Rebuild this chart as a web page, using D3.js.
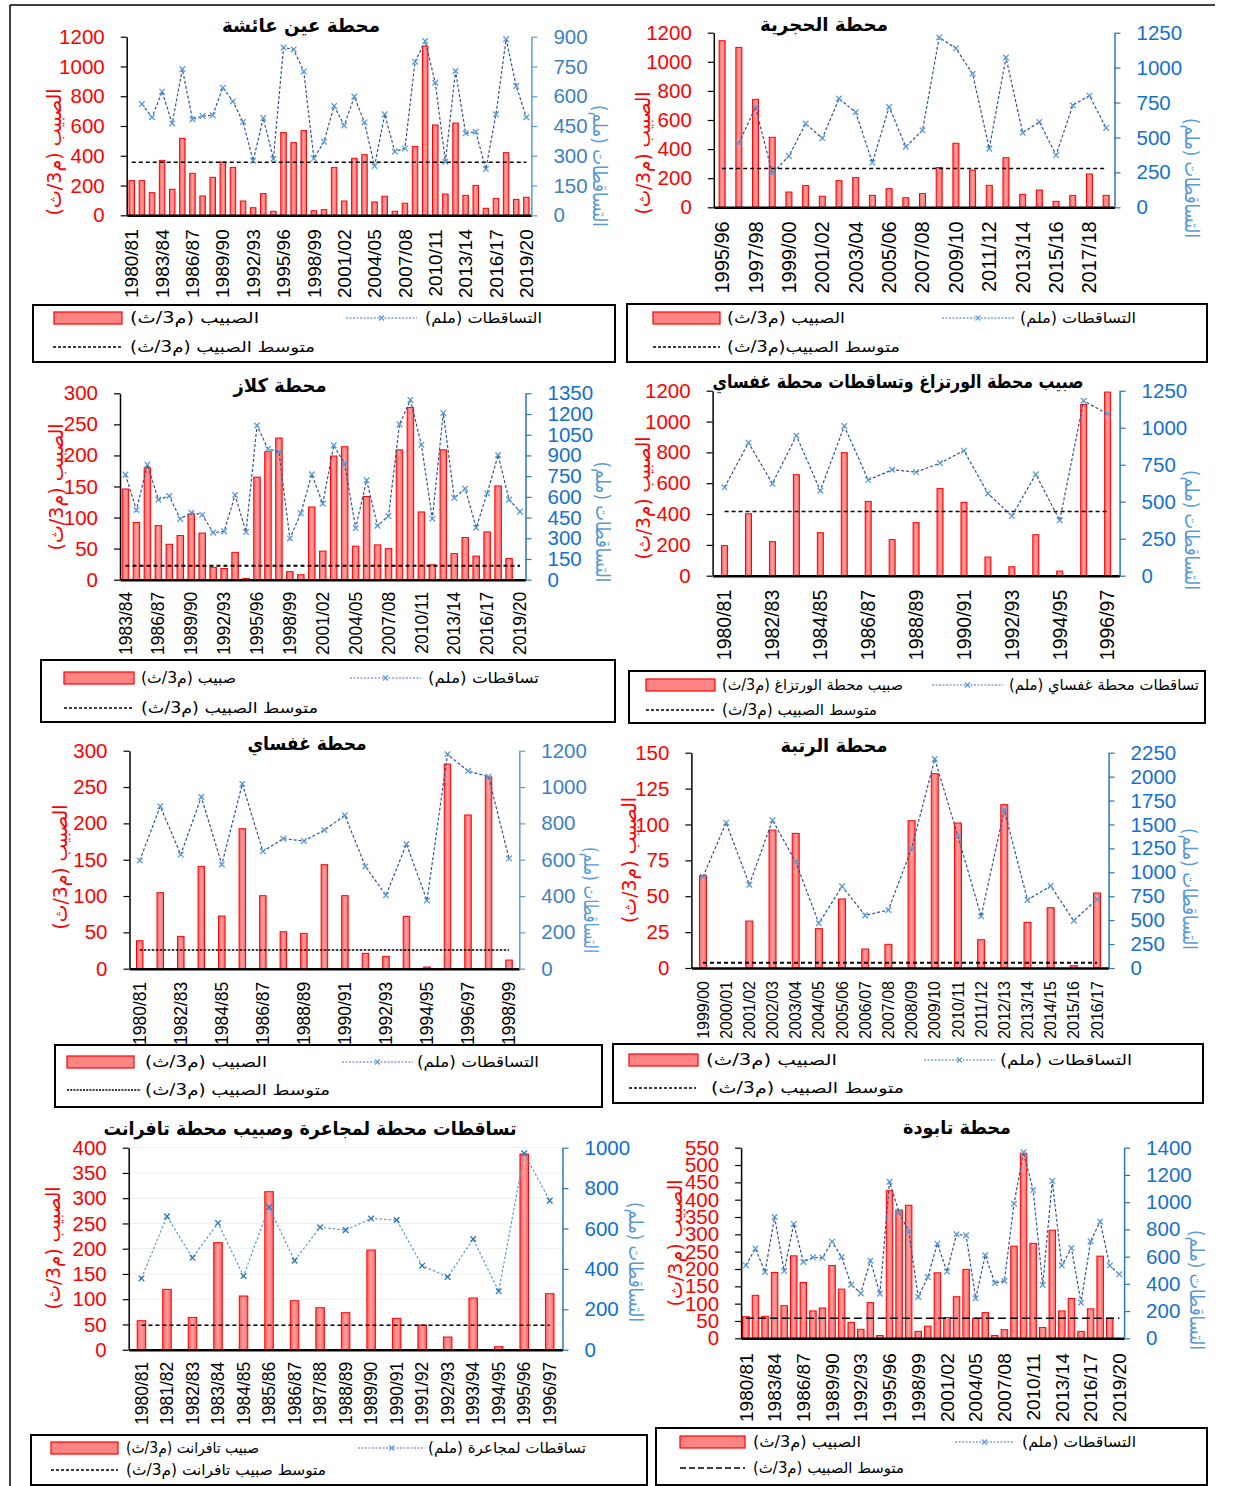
<!DOCTYPE html>
<html>
<head>
<meta charset="utf-8">
<script src="https://cdn.jsdelivr.net/npm/d3@7"></script>
<style>
  body { margin: 0; background: #fff; }
  svg { display: block; }
</style>
</head>
<body>
<svg id="chart" width="1233" height="1486"></svg>
<script>
// ---------- categories (hydrological years) ----------
const seasonsAll = ["1980/81","1981/82","1982/83","1983/84","1984/85","1985/86","1986/87","1987/88","1988/89","1989/90",
  "1990/91","1991/92","1992/93","1993/94","1994/95","1995/96","1996/97","1997/98","1998/99","1999/00",
  "2000/01","2001/02","2002/03","2003/04","2004/05","2005/06","2006/07","2007/08","2008/09","2009/10",
  "2010/11","2011/12","2012/13","2013/14","2014/15","2015/16","2016/17","2017/18","2018/19","2019/20"];
const seasonsHajria = seasonsAll.slice(15, 39);   // 1995/96 - 2018/19
const seasonsKlaz   = seasonsAll.slice(3);        // 1983/84 - 2019/20
const seasons8097   = seasonsAll.slice(0, 17);    // 1980/81 - 1996/97
const seasons8099   = seasonsAll.slice(0, 19);    // 1980/81 - 1998/99
const seasonsRatba  = seasonsAll.slice(19, 37);   // 1999/00 - 2016/17

// ---------- series: flow (m3/s), rainfall (mm), mean flow ----------
const aynAichaFlow = [233,233,152,369,175,517,282,130,255,358,322,96,51,146,27,557,488,569,31,38,
  322,96,383,407,90,128,27,81,463,1137,607,143,620,134,201,47,114,421,107,121];
const aynAichaRain = [null,561,494,623,463,737,484,500,504,643,574,470,275,490,285,845,836,725,287,371,
  551,452,598,468,248,509,321,337,774,878,668,270,727,413,421,233,509,888,651,494];
const aynAichaMean = 356;

const hajriaFlow = [1145,1099,742,481,105,149,76,183,204,82,128,66,94,273,440,256,151,341,89,119,41,82,229,82];
const hajriaRain = [null,458,718,243,367,599,494,778,680,320,718,434,551,1216,1138,956,420,1073,534,611,374,730,799,568];
const hajriaMean = 266;

const klazFlow = [146,92,180,87,57,71,105,75,20,18,44,2,165,206,228,13,8,117,46,199,
  214,54,134,56,50,209,277,109,24,209,42,68,38,77,151,34,null];
const klazRain = [761,505,833,580,606,440,485,471,341,350,613,345,1116,947,927,299,481,763,551,973,
  840,374,720,391,461,1125,1302,978,442,1208,592,659,377,625,903,580,493];
const klazMean = 22.5;

const wertzaghFlow = [195,402,221,655,279,798,482,234,344,566,476,121,58,266,30,1111,1191];
const ghafsaiRain8097 = [597,899,622,946,574,1011,646,716,700,761,845,556,403,685,374,1182,1092];
const wertzaghMean = 417;

const ghafsaiFlow = [38.5,104.6,44.5,140.8,72.5,192.7,100.5,50.9,48.6,143.1,100.5,21.1,17,72,2.3,281.6,211.5,263.8,11.9];
const ghafsaiRain = [596,894,628,945,574,1017,646,716,703,763,844,563,404,686,376,1180,1088,1057,606];
const ghafsaiMean = 25.7;

const ratbaFlow = [64.3,0,32.7,96.1,93.8,27.4,48.1,13.2,16.5,102.6,135.4,101,19.7,113.8,31.8,42,1.6,52.2];
const ratbaRain = [954,1519,871,1546,1108,467,853,550,606,1250,2184,1379,540,1651,711,857,495,718];
const ratbaMean = 3.7;

const tafrantFlow = [57.4,119.5,64,211.9,106.3,312.9,97,83.2,73.3,197.4,62,48.8,25.1,102.3,5.9,387.5,110.9];
const lamjaaraRain = [353,660,455,627,365,706,441,606,592,649,642,416,360,548,289,972,738];
const tafrantMean = 48.2;

const taboudaFlow = [62.5,124,63.5,190,94,238,161,79,87.5,210,142,46,26,103,8,426,370,384,20,35,
  189,60,120,199,58,74,8,25,266,534,274,31,312,79,115,20,85,237,58,null];
const taboudaRain = [536,659,487,891,494,840,561,595,592,710,597,394,330,570,328,1150,925,786,304,450,
  695,490,764,756,294,610,406,421,989,1366,1089,392,1155,536,663,262,712,857,534,470];
const taboudaMean = 57.7;

// ---------- tick labels ----------
const ticks0to1200by200 = [0,200,400,600,800,1000,1200];
const ticks0to900by150  = [0,150,300,450,600,750,900];
const ticks0to1250by250 = [0,250,500,750,1000,1250];
const ticks0to300by50   = [0,50,100,150,200,250,300];
const ticks0to1350by150 = [0,150,300,450,600,750,900,1050,1200,1350];
const ticks0to150by25   = [0,25,50,75,100,125,150];
const ticks0to2250by250 = [0,250,500,750,1000,1250,1500,1750,2000,2250];
const ticks0to400by50   = [0,50,100,150,200,250,300,350,400];
const ticks0to1000by200 = [0,200,400,600,800,1000];
const ticks0to550by50   = [0,50,100,150,200,250,300,350,400,450,500,550];
const ticks0to1400by200 = [0,200,400,600,800,1000,1200,1400];

// ---------- drawing ----------
const NUM = "'Liberation Sans', Arial, sans-serif";
const AR = "'DejaVu Sans', sans-serif";
const svg = d3.select("#chart");

const defs = svg.append("defs");
const grad = defs.append("linearGradient").attr("id", "barFill").attr("x1", 0).attr("x2", 1).attr("y1", 0).attr("y2", 0);
grad.append("stop").attr("offset", 0).attr("stop-color", "#ff5c5c");
grad.append("stop").attr("offset", 0.5).attr("stop-color", "#ffa3a3");
grad.append("stop").attr("offset", 1).attr("stop-color", "#ff5c5c");

function arabic(parent, txt, cx, cy, len, size, color, weight, rot) {
  const t = parent.append("text")
    .attr("transform", `translate(${cx},${cy}) rotate(${rot || 0})`)
    .attr("text-anchor", "middle")
    .attr("dominant-baseline", "central")
    .attr("direction", "rtl")
    .attr("fill", color)
    .style("font-family", AR)
    .style("font-size", size + "px")
    .style("font-weight", weight || "normal")
    .text(txt);
  if (len) t.attr("textLength", len).attr("lengthAdjust", "spacingAndGlyphs");
  return t;
}

function drawPanel(p) {
  const g = svg.append("g");
  const x = d3.scaleBand().domain(p.cats).range([p.x0, p.x1]);
  const bw = x.bandwidth();
  const cx = c => x(c) + bw / 2;
  const yL = d3.scaleLinear().domain([0, d3.max(p.lTicks)]).range([p.yB, p.yT]);
  const yR = d3.scaleLinear().domain([0, d3.max(p.rTicks)]).range([p.yB, p.yT]);

  if (p.grid) {
    g.append("g").selectAll("line").data(p.lTicks.filter(v => v > 0)).join("line")
      .attr("x1", p.x0).attr("x2", p.x1)
      .attr("y1", d => yL(d)).attr("y2", d => yL(d))
      .attr("stroke", "#eeeeee").attr("stroke-width", 1);
  }

  // flow bars
  const flowPts = p.cats.map((c, i) => ({ c, v: p.flow[i] })).filter(d => d.v != null);
  g.append("g").selectAll("rect").data(flowPts).join("rect")
    .attr("x", d => cx(d.c) - p.barW / 2)
    .attr("y", d => yL(d.v))
    .attr("width", p.barW)
    .attr("height", d => yL(0) - yL(d.v))
    .attr("fill", "url(#barFill)")
    .attr("stroke", "#ff0000")
    .attr("stroke-width", 1);

  // category axis
  const labels = p.cats.filter((c, i) => i % p.every === 0);
  const gx = g.append("g").attr("transform", `translate(0,${p.yB})`)
    .call(d3.axisBottom(x).tickValues(labels).tickSize(0).tickSizeOuter(0));
  gx.select(".domain").attr("stroke", "#000").attr("stroke-width", 2.5);
  gx.selectAll(".tick text")
    .attr("transform", "rotate(-90)")
    .attr("text-anchor", "end")
    .attr("x", -p.xPad).attr("y", 0).attr("dy", "0.35em")
    .attr("fill", "#000")
    .style("font-family", NUM).style("font-size", p.xFont + "px");

  // mean flow
  g.append("line")
    .attr("x1", cx(p.cats[0])).attr("x2", cx(p.cats[p.cats.length - 1]))
    .attr("y1", yL(p.mean)).attr("y2", yL(p.mean))
    .attr("stroke", "#000").attr("stroke-width", p.meanW)
    .attr("stroke-dasharray", p.meanDash);

  // rainfall line + markers
  const rainPts = p.cats.map((c, i) => ({ c, v: p.rain[i] }));
  const line = d3.line().defined(d => d.v != null).x(d => cx(d.c)).y(d => yR(d.v));
  g.append("path").datum(rainPts).attr("d", line)
    .attr("fill", "none").attr("stroke", p.rainColor)
    .attr("stroke-width", 1.2).attr("stroke-dasharray", p.rainDash);
  g.append("g").selectAll("path").data(rainPts.filter(d => d.v != null)).join("path")
    .attr("transform", d => `translate(${cx(d.c)},${yR(d.v)})`)
    .attr("d", "M-2.8,-2.8L2.8,2.8M-2.8,2.8L2.8,-2.8")
    .attr("stroke", p.markColor).attr("stroke-width", 1.3);

  // flow axis (left)
  const gl = g.append("g").attr("transform", `translate(${p.x0},0)`)
    .call(d3.axisLeft(yL).tickValues(p.lTicks).tickSize(6).tickSizeOuter(0).tickPadding(16).tickFormat(d3.format("d")));
  gl.select(".domain").attr("stroke", "#000").attr("stroke-width", 1.5);
  gl.selectAll(".tick line").attr("stroke", "#000").attr("stroke-width", 1.2);
  gl.selectAll(".tick text").attr("fill", "#ff0000")
    .style("font-family", NUM).style("font-size", p.yFont + "px");

  // rainfall axis (right)
  const gr = g.append("g").attr("transform", `translate(${p.x1},0)`)
    .call(d3.axisRight(yR).tickValues(p.rTicks).tickSize(6).tickSizeOuter(0).tickPadding(16).tickFormat(d3.format("d")));
  gr.select(".domain").attr("stroke", p.rAxisColor).attr("stroke-width", 1.5);
  gr.selectAll(".tick line").attr("stroke", p.rAxisColor).attr("stroke-width", 1.2);
  gr.selectAll(".tick text").attr("fill", p.rTextColor)
    .style("font-family", NUM).style("font-size", p.yFont + "px");

  // titles
  arabic(g, p.title, p.titlePos[0], p.titlePos[1], p.titlePos[2], 19, "#000", "bold");
  arabic(g, "الصبيب (م3/ث)", p.lTitle[0], p.lTitle[1], p.lTitle[2], 20, "#ff0000", "normal", -90);
  arabic(g, "التساقطات (ملم)", p.rTitle[0], p.rTitle[1], p.rTitle[2], 20, "#5b9bd5", "normal", 90);
}

function drawLegend(L) {
  const g = svg.append("g");
  const [bx0, by0, bx1, by1] = L.box;
  g.append("rect").attr("x", bx0).attr("y", by0).attr("width", bx1 - bx0).attr("height", by1 - by0)
    .attr("fill", "none").attr("stroke", "#000").attr("stroke-width", 2);
  // bar swatch
  g.append("rect").attr("x", L.sw[0]).attr("y", L.row1 - 6).attr("width", L.sw[1] - L.sw[0]).attr("height", 12)
    .attr("fill", "#ff8484").attr("stroke", "#ff0000").attr("stroke-width", 1.2);
  arabic(g, L.flowText, (L.flowSpan[0] + L.flowSpan[1]) / 2, L.row1, L.flowSpan[1] - L.flowSpan[0], 15, "#000");
  // rainfall sample
  g.append("line").attr("x1", L.rs[0]).attr("x2", L.rs[1]).attr("y1", L.row1).attr("y2", L.row1)
    .attr("stroke", "#4472c4").attr("stroke-width", 1.2).attr("stroke-dasharray", "2,1.5");
  const mx = (L.rs[0] + L.rs[1]) / 2;
  g.append("path").attr("transform", `translate(${mx},${L.row1})`)
    .attr("d", "M-2.5,-2.5L2.5,2.5M-2.5,2.5L2.5,-2.5").attr("stroke", "#5b9bd5").attr("stroke-width", 1.2);
  arabic(g, L.rainText, (L.rainSpan[0] + L.rainSpan[1]) / 2, L.row1, L.rainSpan[1] - L.rainSpan[0], 15, "#000");
  // mean sample
  g.append("line").attr("x1", L.ms[0]).attr("x2", L.ms[1]).attr("y1", L.row2).attr("y2", L.row2)
    .attr("stroke", "#000").attr("stroke-width", 1.3).attr("stroke-dasharray", L.meanDash);
  arabic(g, L.meanText, (L.meanSpan[0] + L.meanSpan[1]) / 2, L.row2, L.meanSpan[1] - L.meanSpan[0], 15, "#000");
}

const DARK = "#2f5597", LIGHT = "#5b9bd5";

const panels = [
  { title: "محطة عين عائشة", cats: seasonsAll, flow: aynAichaFlow, rain: aynAichaRain, mean: aynAichaMean,
    lTicks: ticks0to1200by200, rTicks: ticks0to900by150, every: 3,
    x0: 126.7, x1: 531.4, yT: 36.7, yB: 215.3, barW: 5.5, xFont: 19, xPad: 14, yFont: 20.5,
    meanDash: "4,3", meanW: 1.5, rainColor: DARK, rainDash: "3,2", markColor: LIGHT,
    rAxisColor: "#5b9bd5", rTextColor: "#3f80c4",
    titlePos: [301, 25, 158], lTitle: [54, 152, 127], rTitle: [600, 166, 122] },
  { title: "محطة الحجرية", cats: seasonsHajria, flow: hajriaFlow, rain: hajriaRain, mean: hajriaMean,
    lTicks: ticks0to1200by200, rTicks: ticks0to1250by250, every: 2,
    x0: 713.8, x1: 1114.5, yT: 32.7, yB: 207.3, barW: 6, xFont: 20, xPad: 14, yFont: 20.5,
    meanDash: "4,3", meanW: 1.5, rainColor: DARK, rainDash: "3,2", markColor: LIGHT,
    rAxisColor: "#2e75b6", rTextColor: "#1570d0",
    titlePos: [824, 24, 128], lTitle: [643, 153, 123], rTitle: [1192, 178, 120] },
  { title: "محطة كلاز", cats: seasonsKlaz, flow: klazFlow, rain: klazRain, mean: klazMean,
    lTicks: ticks0to300by50, rTicks: ticks0to1350by150, every: 3,
    x0: 120, x1: 525.5, yT: 393.3, yB: 579.7, barW: 6.5, xFont: 17.5, xPad: 12, yFont: 20.5,
    meanDash: "4,3", meanW: 2, rainColor: DARK, rainDash: "3,2", markColor: LIGHT,
    rAxisColor: "#2e75b6", rTextColor: "#1570d0",
    titlePos: [280, 385, 93], lTitle: [56, 487, 127], rTitle: [603, 522, 121] },
  { title: "صبيب محطة الورتزاغ وتساقطات محطة غفساي", cats: seasons8097, flow: wertzaghFlow, rain: ghafsaiRain8097, mean: wertzaghMean,
    lTicks: ticks0to1200by200, rTicks: ticks0to1250by250, every: 2,
    x0: 712.6, x1: 1119.6, yT: 390.7, yB: 575.7, barW: 6, xFont: 19.5, xPad: 14, yFont: 20.5,
    meanDash: "4,3", meanW: 1.5, rainColor: DARK, rainDash: "3,2", markColor: LIGHT,
    rAxisColor: "#2e75b6", rTextColor: "#1570d0",
    titlePos: [898, 381, 371], lTitle: [643, 498, 123], rTitle: [1192, 530, 120] },
  { title: "محطة غفساي", cats: seasons8099, flow: ghafsaiFlow, rain: ghafsaiRain, mean: ghafsaiMean,
    lTicks: ticks0to300by50, rTicks: ticks0to1200by200, every: 2,
    x0: 129.5, x1: 519.3, yT: 750.7, yB: 968.7, barW: 6.5, xFont: 17.5, xPad: 13, yFont: 20.5,
    meanDash: "2.5,1.5", meanW: 1.3, rainColor: DARK, rainDash: "3,2", markColor: LIGHT,
    rAxisColor: "#5b9bd5", rTextColor: "#3f80c4",
    titlePos: [307, 743, 119], lTitle: [60, 867, 125], rTitle: [591, 900, 106] },
  { title: "محطة الرتبة", cats: seasonsRatba, flow: ratbaFlow, rain: ratbaRain, mean: ratbaMean,
    lTicks: ticks0to150by25, rTicks: ticks0to2250by250, every: 1,
    x0: 691.4, x1: 1108.6, yT: 752.7, yB: 968, barW: 7, xFont: 16, xPad: 13, yFont: 20.5,
    meanDash: "4,3", meanW: 2, rainColor: DARK, rainDash: "3,2", markColor: LIGHT,
    rAxisColor: "#2e75b6", rTextColor: "#1570d0",
    titlePos: [834, 745, 107], lTitle: [629, 860, 126], rTitle: [1190, 889, 122] },
  { title: "تساقطات محطة لمجاعرة وصبيب محطة تافرانت", cats: seasons8097, flow: tafrantFlow, rain: lamjaaraRain, mean: tafrantMean,
    lTicks: ticks0to400by50, rTicks: ticks0to1000by200, every: 1, grid: true,
    x0: 128.7, x1: 562.5, yT: 1147.7, yB: 1349.7, barW: 8.5, xFont: 17.5, xPad: 12, yFont: 20.5,
    meanDash: "4,3", meanW: 1.5, rainColor: LIGHT, rainDash: "2.5,2", markColor: "#2e75b6",
    rAxisColor: "#2e75b6", rTextColor: "#0c6fd0",
    titlePos: [310, 1128, 413], lTitle: [53, 1248, 123], rTitle: [636, 1262, 120] },
  { title: "محطة تابودة", cats: seasonsAll, flow: taboudaFlow, rain: taboudaRain, mean: taboudaMean,
    lTicks: ticks0to550by50, rTicks: ticks0to1400by200, every: 3,
    x0: 741.1, x1: 1124.1, yT: 1147.7, yB: 1338.3, barW: 6.5, xFont: 19, xPad: 15, yFont: 20.5,
    meanDash: "8,4", meanW: 1.5, rainColor: DARK, rainDash: "3,2", markColor: LIGHT,
    rAxisColor: "#2e75b6", rTextColor: "#1570d0",
    titlePos: [957, 1127, 108], lTitle: [675, 1243, 127], rTitle: [1197, 1290, 120] }
];

const legends = [
  { box: [33, 305, 615, 362], row1: 318, row2: 347, sw: [54, 122],
    flowText: "الصبيب (م3/ث)", flowSpan: [130, 259], rs: [346, 417],
    rainText: "التساقطات (ملم)", rainSpan: [425, 542], ms: [53, 122], meanDash: "3,2",
    meanText: "متوسط الصبيب (م3/ث)", meanSpan: [130, 315] },
  { box: [627, 304, 1207, 362], row1: 318, row2: 347, sw: [653, 720],
    flowText: "الصبيب (م3/ث)", flowSpan: [727, 845], rs: [942, 1014],
    rainText: "التساقطات (ملم)", rainSpan: [1020, 1136], ms: [653, 720], meanDash: "3,2",
    meanText: "متوسط الصبيب(م3/ث)", meanSpan: [727, 900] },
  { box: [41, 660, 615, 722], row1: 678, row2: 708, sw: [64, 134],
    flowText: "صبيب (م3/ث)", flowSpan: [141, 236], rs: [350, 421],
    rainText: "تساقطات (ملم)", rainSpan: [428, 539], ms: [64, 134], meanDash: "3,2",
    meanText: "متوسط الصبيب (م3/ث)", meanSpan: [141, 318] },
  { box: [629, 671, 1205, 723], row1: 685, row2: 710, sw: [646, 715],
    flowText: "صبيب محطة الورتزاغ (م3/ث)", flowSpan: [722, 903], rs: [932, 1003],
    rainText: "تساقطات محطة غفساي (ملم)", rainSpan: [1009, 1199], ms: [646, 715], meanDash: "3,2",
    meanText: "متوسط الصبيب (م3/ث)", meanSpan: [722, 877] },
  { box: [55, 1045, 602, 1107], row1: 1062, row2: 1090, sw: [67, 134],
    flowText: "الصبيب (م3/ث)", flowSpan: [145, 267], rs: [342, 413],
    rainText: "التساقطات (ملم)", rainSpan: [417, 539], ms: [67, 141], meanDash: "2,1.2",
    meanText: "متوسط الصبيب (م3/ث)", meanSpan: [145, 330] },
  { box: [613, 1044, 1203, 1103], row1: 1060, row2: 1088, sw: [629, 698],
    flowText: "الصبيب (م3/ث)", flowSpan: [706, 837], rs: [924, 995],
    rainText: "التساقطات (ملم)", rainSpan: [1000, 1132], ms: [629, 696], meanDash: "3,2",
    meanText: "متوسط الصبيب (م3/ث)", meanSpan: [711, 904] },
  { box: [31, 1435, 647, 1485], row1: 1448, row2: 1470, sw: [51, 118],
    flowText: "صبيب تافرانت (م3/ث)", flowSpan: [126, 259], rs: [358, 425],
    rainText: "تساقطات لمجاعرة (ملم)", rainSpan: [428, 586], ms: [51, 118], meanDash: "3,2",
    meanText: "متوسط صبيب  تافرانت (م3/ث)", meanSpan: [126, 326] },
  { box: [656, 1428, 1207, 1485], row1: 1442, row2: 1468, sw: [680, 745],
    flowText: "الصبيب (م3/ث)", flowSpan: [753, 861], rs: [955, 1014],
    rainText: "التساقطات (ملم)", rainSpan: [1022, 1136], ms: [680, 745], meanDash: "6,3",
    meanText: "متوسط الصبيب (م3/ث)", meanSpan: [753, 904] }
];

// outer frame
svg.append("line").attr("x1", 10).attr("x2", 1215).attr("y1", 5).attr("y2", 5).attr("stroke", "#000").attr("stroke-width", 1.5);
svg.append("line").attr("x1", 10).attr("x2", 10).attr("y1", 5).attr("y2", 1486).attr("stroke", "#000").attr("stroke-width", 1.5);

panels.forEach(drawPanel);
legends.forEach(drawLegend);
</script>
</body>
</html>
